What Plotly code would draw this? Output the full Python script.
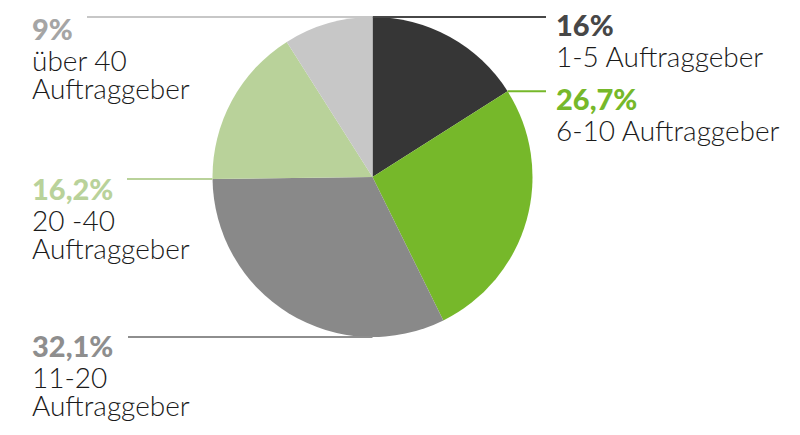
import math
import plotly.graph_objects as go

# ---- data ----
categories = ["1-5 Auftraggeber", "6-10 Auftraggeber", "11-20 Auftraggeber",
              "20 -40 Auftraggeber", "über 40 Auftraggeber"]
values = [16, 26.7, 32.1, 16.2, 9]
pct_labels = ["16%", "26,7%", "32,1%", "16,2%", "9%"]
label_lines = [["1-5 Auftraggeber"], ["6-10 Auftraggeber"], ["11-20", "Auftraggeber"],
               ["20 -40", "Auftraggeber"], ["über 40", "Auftraggeber"]]
slice_colors = ["#363636", "#76b82a", "#898989", "#b9d29a", "#c7c7c7"]
pct_colors = ["#474747", "#76b82a", "#8e8e8e", "#b9d29a", "#a5a5a5"]
line_colors = ["#474747", "#76b82a", "#8e8e8e", "#b9d29a", "#c7c7c7"]

W, H = 800, 435
CX, CY, R = 372.5, 177, 160
PCT_SIZE, LBL_SIZE = 29, 28

fig = go.Figure(go.Pie(
    values=values, labels=categories, sort=False, direction="clockwise",
    rotation=0, marker=dict(colors=slice_colors, line=dict(width=0)),
    textinfo="none", hoverinfo="label+percent", showlegend=False,
    domain=dict(x=[(CX - R) / W, (CX + R) / W], y=[1 - (CY + R) / H, 1 - (CY - R) / H]),
))

def px(x): return x / W
def py(y): return 1 - y / H

total = sum(values)
cum = [0]
for v in values:
    cum.append(cum[-1] + v)
def pt(frac):
    a = 2 * math.pi * frac / total
    return CX + R * math.sin(a), CY - R * math.cos(a)

top = pt(cum[0])
b12 = pt(cum[1])
b34 = pt(cum[3])
bottom = (CX, CY + R)
# (pie point, leader end x, text x, percent baseline y)
leaders = [
    (top, 546, 554, 36),      # 16%
    (b12, 546, 554, 110),     # 26,7%
    (bottom, 128, 30, 357),   # 32,1%
    (b34, 127, 30, 200),      # 16,2%
    (top, 87, 30, 40),        # 9%
]

shapes = []
annotations = []
def add_text(x, baseline, text, size, color, weight):
    annotations.append(dict(xref="paper", yref="paper", x=px(x), y=py(baseline - 1.08 * size),
                            xanchor="left", yanchor="top", align="left", showarrow=False,
                            text=text,
                            font=dict(family="Lato", size=size, color=color, weight=weight)))

for i, ((x0, y0), xe, tx, base) in enumerate(leaders):
    shapes.append(dict(type="line", xref="paper", yref="paper",
                       x0=px(x0), x1=px(xe), y0=py(y0), y1=py(y0),
                       line=dict(color=line_colors[i], width=2)))
    add_text(tx, base, pct_labels[i], PCT_SIZE, pct_colors[i], 900)
    b = base + 31
    for ln in label_lines[i]:
        add_text(tx, b, ln, LBL_SIZE, "#1a1a1a", 300)
        b += 28

fig.update_layout(width=W, height=H, margin=dict(l=0, r=0, t=0, b=0),
                  paper_bgcolor="white", plot_bgcolor="white",
                  shapes=shapes, annotations=annotations)
fig.write_html("out.html", config={"displayModeBar": False},
               post_script="document.body.style.margin='0';")
